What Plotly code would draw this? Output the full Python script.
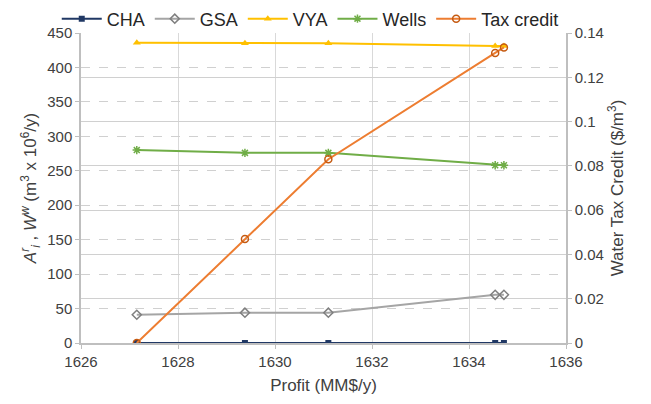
import plotly.graph_objects as go

profit = [1627.15, 1629.38, 1631.1, 1634.54, 1634.72]
cha = [0, 0, 0, 0, 0]
gsa = [41, 44, 44, 70, 70]
vya = [436, 435, 435, 431, 431]
wells = [280, 276, 276, 258, 258]
tax_credit = [0, 0.047, 0.083, 0.131, 0.1335]

FONT = "Liberation Sans"
fig = go.Figure()
fig.add_trace(go.Scatter(x=profit, y=cha, name="CHA", mode="lines+markers",
                         line=dict(color="#203864", width=2),
                         marker=dict(symbol="square", size=6, color="#203864")))
fig.add_trace(go.Scatter(x=profit, y=gsa, name="GSA", mode="lines+markers",
                         line=dict(color="#a5a5a5", width=2),
                         marker=dict(symbol="diamond-open", size=7, color="#7f7f7f", line=dict(width=1.5))))
fig.add_trace(go.Scatter(x=profit, y=vya, name="VYA", mode="lines+markers",
                         line=dict(color="#ffc000", width=2),
                         marker=dict(symbol="triangle-up", size=7, color="#ffc000")))
fig.add_trace(go.Scatter(x=profit, y=wells, name="Wells", mode="lines+markers",
                         line=dict(color="#70ad47", width=2),
                         marker=dict(symbol="asterisk-open", size=7, color="#70ad47", line=dict(width=1.5, color="#70ad47"))))
fig.add_trace(go.Scatter(x=profit, y=tax_credit, name="Tax credit", mode="lines+markers",
                         yaxis="y2",
                         line=dict(color="#ed7d31", width=2),
                         marker=dict(symbol="circle-open", size=7, color="#c55a11", line=dict(width=1.5))))

fig.update_layout(
    width=651, height=404,
    margin=dict(l=81, r=85, t=33, b=61, autoexpand=False),
    paper_bgcolor="white", plot_bgcolor="white",
    font=dict(family=FONT, size=15, color="#404040"),
    legend=dict(orientation="h", x=-0.05, xanchor="left", y=1.105, yanchor="top",
                font=dict(family=FONT, size=18, color="#262626"), bgcolor="rgba(0,0,0,0)",
                itemwidth=40, tracegroupgap=0),
    xaxis=dict(range=[1626, 1636], dtick=2, tick0=1626,
               showgrid=True, gridcolor="#d9d9d9", gridwidth=1,
               showline=True, linecolor="#bfbfbf", linewidth=1.5,
               ticks="outside", ticklen=4, tickcolor="#bfbfbf",
               zeroline=False, tickfont=dict(family=FONT, size=15, color="#404040"),
               title=dict(text="Profit (MM$/y)", font=dict(family=FONT, size=17, color="#404040"), standoff=10)),
    yaxis=dict(range=[0, 450], dtick=50,
               showgrid=True, gridcolor="#d0d0d0", gridwidth=1, griddash="dash",
               showline=True, linecolor="#bfbfbf", linewidth=1.5,
               ticks="outside", ticklen=4, tickcolor="#bfbfbf",
               zeroline=False, tickfont=dict(family=FONT, size=15, color="#404040"),
               title=dict(text="<i>A</i><sup><i>r</i></sup><sub><i>i</i></sub> , <i>W</i><sup><i>w</i></sup> (m<sup>3</sup> x 10<sup>6</sup>/y)",
                          font=dict(family=FONT, size=17, color="#404040"), standoff=6)),
    yaxis2=dict(range=[0, 0.14], dtick=0.02, overlaying="y", side="right",
                showgrid=True, gridcolor="#d0d0d0", gridwidth=1,
                showline=True, linecolor="#bfbfbf", linewidth=1.5,
                ticks="outside", ticklen=4, tickcolor="#bfbfbf",
                zeroline=False, tickfont=dict(family=FONT, size=15, color="#404040"),
                title=dict(text="Water Tax Credit ($/m<sup>3</sup>)",
                           font=dict(family=FONT, size=17, color="#404040"), standoff=8)),
)

fig.write_html("out.html")
